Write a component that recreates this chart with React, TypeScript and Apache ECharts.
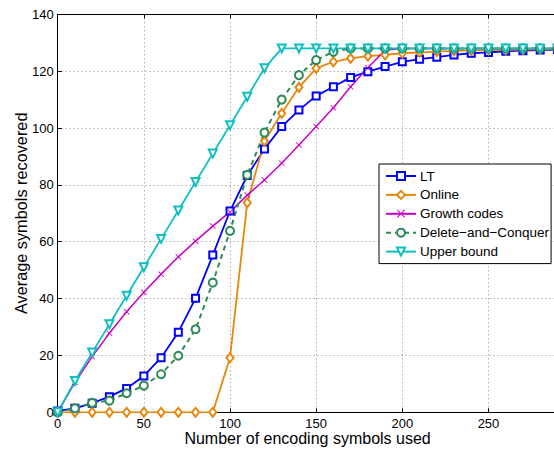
import React, { useEffect, useRef } from "react";
import * as echarts from "echarts";

const xValues = [0, 10, 20, 30, 40, 50, 60, 70, 80, 90, 100, 110, 120, 130, 140, 150, 160, 170, 180, 190, 200, 210, 220, 230, 240, 250, 260, 270, 280, 290];

const ltValues = [0.5, 1.4, 3.2, 5.5, 8.4, 12.8, 19.2, 28.2, 40.1, 55.3, 70.8, 83.3, 92.6, 100.5, 106.3, 111.3, 114.5, 117.8, 119.8, 121.6, 123.3, 124.2, 124.9, 125.7, 126.3, 126.6, 127.0, 127.2, 127.4, 127.5];
const onlineValues = [0, 0, 0, 0, 0, 0, 0, 0, 0, 0, 19.2, 73.7, 95.4, 105.2, 114.3, 121.0, 123.3, 124.5, 125.3, 125.7, 126.3, 126.6, 126.9, 127.1, 127.3, 127.4, 127.5, 127.6, 127.7, 127.7];
const growthValues = [0, 10.5, 19.6, 27.8, 35.4, 42.2, 48.6, 54.7, 60.2, 65.5, 70.5, 76.4, 81.7, 87.6, 94.0, 100.5, 107.1, 114.5, 121.2, 127.4, 128, 128, 128, 128, 128, 128, 128, 128, 128, 128];
const dcValues = [0, 1.4, 3.3, 4.1, 6.7, 9.4, 13.4, 19.9, 29.2, 45.6, 63.8, 83.5, 98.4, 110.0, 118.6, 123.9, 126.8, 128, 128, 128, 128, 128, 128, 128, 128, 128, 128, 128, 128, 128];
const upperValues = [0, 11, 21, 31, 41, 51, 61, 71, 81, 91, 101, 111, 121, 128, 128, 128, 128, 128, 128, 128, 128, 128, 128, 128, 128, 128, 128, 128, 128, 128];

const seriesNames = ["LT", "Online", "Growth codes", "Delete\u2212and\u2212Conquer", "Upper bound"];

const xAxisTitle = "Number of encoding symbols used";
const yAxisTitle = "Average symbols recovered";

const FONT = "'Liberation Sans', Arial, Helvetica, sans-serif";
const X_SYMBOL = "path://M0,1L1,0L5,4L9,0L10,1L6,5L10,9L9,10L5,6L1,10L0,9L4,5Z";

function pairs(vals: number[]) {
  return xValues.map((x, i) => [x, vals[i]]);
}

export default function App() {
  const ref = useRef<HTMLDivElement>(null);
  useEffect(() => {
    if (!ref.current) return;
    const chart = echarts.init(ref.current, undefined, { renderer: "svg" });
    const grid = { left: 57.7, top: 14.3, bottom: 36.7, right: -3.4, containLabel: false, outerBoundsMode: "none" };
    const axisLine = { show: true, lineStyle: { color: "#000", width: 1 } };
    const splitLine = { show: true, lineStyle: { color: "#888", type: [1, 3] as any, width: 1 } };
    const labelStyle = { color: "#000", fontSize: 13, fontFamily: FONT };
    chart.setOption({
      animation: false,
      backgroundColor: "#fff",
      grid,
      legend: {
        orient: "vertical",
        left: 379,
        top: 164,
        itemWidth: 30,
        itemHeight: 10,
        itemGap: 2.9,
        padding: [4, 2, 4, 6],
        backgroundColor: "#fff",
        borderColor: "#000",
        borderWidth: 1,
        borderRadius: 0,
        textStyle: { color: "#000", fontSize: 13.5, lineHeight: 16, fontFamily: FONT, padding: [0, 0, 0, -1] },
        data: seriesNames,
      },
      xAxis: [
        {
          type: "value",
          min: 0,
          max: 290,
          interval: 50,
          name: xAxisTitle,
          nameLocation: "middle",
          nameGap: 18.5,
          nameMoveOverlap: false,
          nameTextStyle: { color: "#000", fontSize: 16, fontFamily: FONT },
          axisLine,
          axisTick: { show: true, inside: true, length: 4, lineStyle: { color: "#000" } },
          axisLabel: { ...labelStyle, margin: 5, showMaxLabel: false },
          splitLine,
        },
        {
          type: "value",
          position: "top",
          min: 0,
          max: 290,
          interval: 50,
          axisLine,
          axisTick: { show: true, inside: true, length: 4, lineStyle: { color: "#000" } },
          axisLabel: { show: false },
          splitLine: { show: false },
        },
      ],
      yAxis: {
        type: "value",
        min: 0,
        max: 140,
        interval: 20,
        name: yAxisTitle,
        nameLocation: "middle",
        nameGap: 29,
        nameMoveOverlap: false,
        nameTextStyle: { color: "#000", fontSize: 16.3, fontFamily: FONT },
        axisLine,
        axisTick: { show: true, inside: true, length: 4, lineStyle: { color: "#000" } },
        axisLabel: { ...labelStyle, margin: 4 },
        splitLine,
      },
      series: [
        {
          name: seriesNames[0],
          type: "line",
          data: pairs(ltValues),
          symbol: "emptyRect",
          symbolSize: 7,
          color: "#0000ff",
          lineStyle: { width: 1.8, color: "#0000ff" },
          itemStyle: { borderWidth: 1.5, color: "#0000ff" },
        },
        {
          name: seriesNames[1],
          type: "line",
          data: pairs(onlineValues),
          symbol: "emptyDiamond",
          symbolSize: [7, 9],
          color: "#e8860c",
          lineStyle: { width: 1.8, color: "#e8860c" },
          itemStyle: { borderWidth: 1.5, color: "#e8860c" },
        },
        {
          name: seriesNames[2],
          type: "line",
          data: pairs(growthValues),
          symbol: X_SYMBOL,
          symbolSize: 6,
          color: "#c800c8",
          lineStyle: { width: 1.5, color: "#c800c8" },
          itemStyle: { color: "#c800c8" },
        },
        {
          name: seriesNames[3],
          type: "line",
          data: pairs(dcValues),
          symbol: "emptyCircle",
          symbolSize: 8,
          color: "#2e8b57",
          lineStyle: { width: 2, color: "#2e8b57", type: [5, 4] as any },
          itemStyle: { borderWidth: 2, color: "#2e8b57" },
        },
        {
          name: seriesNames[4],
          type: "line",
          data: pairs(upperValues),
          symbol: "emptyTriangle",
          symbolRotate: 180,
          symbolSize: 8,
          color: "#10bfc0",
          lineStyle: { width: 1.8, color: "#10bfc0" },
          itemStyle: { borderWidth: 1.5, color: "#10bfc0" },
        },
      ],
    });
    return () => chart.dispose();
  }, []);
  return (
    <div
      ref={ref}
      style={{ position: "absolute", left: 0, top: 0, width: 554, height: 449, overflow: "hidden" }}
    />
  );
}
